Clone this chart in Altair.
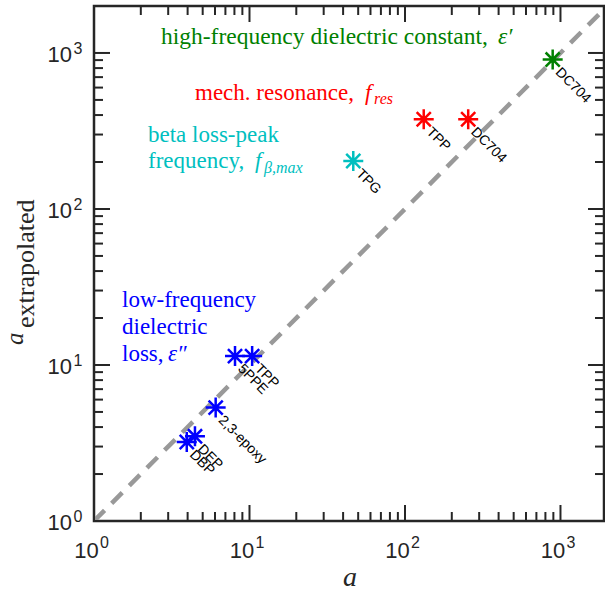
import altair as alt
import pandas as pd

# ---------------- data ----------------
compounds = ["DBP", "DEP", "2,3-epoxy", "5PPE", "TPP", "TPG", "TPP", "DC704", "DC704"]
methods = ["loss", "loss", "loss", "loss", "loss", "beta", "res", "res", "eps"]
a_values = [3.95, 4.46, 6.06, 8.07, 10.4, 46.5, 132, 255, 891]
a_extrapolated = [3.21, 3.49, 5.33, 11.4, 11.4, 203, 376, 376, 907]

method_keys = ["loss", "beta", "res", "eps"]
method_colors = ["#0000FF", "#00BFBF", "#FF0000", "#008000"]

diag_values = [1, 1905]
major_ticks = [1, 10, 100, 1000]
minor_ticks = [2, 3, 4, 5, 6, 7, 8, 9, 20, 30, 40, 50, 60, 70, 80, 90,
               200, 300, 400, 500, 600, 700, 800, 900]
tick_base = ["10", "10", "10", "10"]
tick_exp = ["0", "1", "2", "3"]

# ---------------- layout ----------------
W, H = 510, 515
AX = "#262626"
SERIF = "Liberation Serif"
SANS = "Liberation Sans"
STAR = ("M-1,0L1,0M0,-1L0,1M-0.7071,-0.7071L0.7071,0.7071"
        "M-0.7071,0.7071L0.7071,-0.7071")

xs = alt.Scale(type="log", domain=[1, 1905], nice=False)
ys = alt.Scale(type="log", domain=[1, 2000], nice=False)

df = pd.DataFrame({"compound": compounds, "method": methods,
                   "a": a_values, "ae": a_extrapolated})
X = alt.X("a:Q", scale=xs, axis=None)
Y = alt.Y("ae:Q", scale=ys, axis=None)

diag = pd.DataFrame({"a": diag_values, "ae": diag_values})
line = alt.Chart(diag).mark_line(color="#999999", strokeWidth=4.5,
                                 strokeDash=[15, 10], clip=True).encode(x=X, y=Y)

points = alt.Chart(df).mark_point(shape=STAR, size=400, filled=False,
                                  strokeWidth=2.5, opacity=1).encode(
    x=X, y=Y,
    color=alt.Color("method:N", scale=alt.Scale(domain=method_keys, range=method_colors),
                    legend=None))

labels = alt.Chart(df).mark_text(angle=45, align="left", baseline="middle",
                                 dx=11, dy=4, font=SANS, fontSize=14,
                                 color="black").encode(x=X, y=Y, text="compound:N")


def tick_layers(vals, length):
    d = pd.DataFrame({"v": vals})
    base = alt.Chart(d).mark_rule(color=AX, strokeWidth=2)
    vx = alt.X("v:Q", scale=xs, axis=None)
    vy = alt.Y("v:Q", scale=ys, axis=None)
    return [
        base.encode(x=vx, y=alt.value(H), y2=alt.value(H - length)),
        base.encode(x=vx, y=alt.value(0), y2=alt.value(length)),
        base.encode(y=vy, x=alt.value(0), x2=alt.value(length)),
        base.encode(y=vy, x=alt.value(W), x2=alt.value(W - length)),
    ]


ticks = tick_layers(major_ticks, 16) + tick_layers(minor_ticks, 9)

dec = pd.DataFrame({"v": major_ticks, "base": tick_base, "exp": tick_exp})
vx = alt.X("v:Q", scale=xs, axis=None)
vy = alt.Y("v:Q", scale=ys, axis=None)
xlab = alt.Chart(dec).mark_text(align="center", baseline="alphabetic", dx=-7.5,
                                font=SANS, fontSize=22, color=AX).encode(
    x=vx, y=alt.value(552), text="base:N")
xexp = alt.Chart(dec).mark_text(align="left", baseline="alphabetic", dx=6,
                                font=SANS, fontSize=16, color=AX).encode(
    x=vx, y=alt.value(542), text="exp:N")
ylab = alt.Chart(dec).mark_text(align="right", baseline="alphabetic", dy=9,
                                font=SANS, fontSize=22, color=AX).encode(
    y=vy, x=alt.value(-22), text="base:N")
yexp = alt.Chart(dec).mark_text(align="left", baseline="alphabetic", dy=1,
                                font=SANS, fontSize=16, color=AX).encode(
    y=vy, x=alt.value(-20.5), text="exp:N")


def txt(s, x, y, size, color, italic=False, angle=0, align="left"):
    kw = dict(align=align, baseline="alphabetic", font=SERIF, fontSize=size,
              color=color)
    if italic:
        kw["fontStyle"] = "italic"
    if angle:
        kw["angle"] = angle
    return alt.Chart(pd.DataFrame({"t": [s]})).mark_text(**kw).encode(
        x=alt.value(x), y=alt.value(y), text="t:N")


OX, OY = 94, 6  # plot origin within the picture
G, R, C, B = method_colors[3], method_colors[2], method_colors[1], method_colors[0]
annots = [
    txt("high-frequency dielectric constant,", 161 - OX, 44 - OY, 23.5, G),
    txt("ε′", 498 - OX, 44 - OY, 23.5, G, italic=True),
    txt("mech. resonance,", 195 - OX, 100 - OY, 23, R),
    txt("f", 365 - OX, 100 - OY, 23, R, italic=True),
    txt("res", 374 - OX, 104 - OY, 16, R, italic=True),
    txt("beta loss-peak", 148 - OX, 142 - OY, 23, C),
    txt("frequency,", 148 - OX, 168 - OY, 23, C),
    txt("f", 255 - OX, 168 - OY, 23, C, italic=True),
    txt("β,max", 264 - OX, 173 - OY, 16, C, italic=True),
    txt("low-frequency", 122 - OX, 307 - OY, 23, B),
    txt("dielectric", 122 - OX, 334 - OY, 23, B),
    txt("loss,", 122 - OX, 361 - OY, 23, B),
    txt("ε″", 168 - OX, 361 - OY, 23, B, italic=True),
    # axis titles
    txt("a", 350 - OX, 586 - OY, 28, AX, italic=True, align="center"),
    txt("a", 23 - OX, 345 - OY, 25, AX, italic=True, angle=270),
    txt("extrapolated", 34 - OX, 328 - OY, 26, AX, angle=270),
]

chart = alt.layer(line, *ticks, points, labels, xlab, xexp, ylab, yexp, *annots).properties(
    width=W, height=H,
    padding={"left": OX, "top": OY, "right": 1, "bottom": 72},
    autosize=alt.AutoSizeParams(type="none"),
).configure_view(stroke=AX, strokeWidth=2.5)

chart.save("out.html", embed_options={"renderer": "svg", "actions": False})
